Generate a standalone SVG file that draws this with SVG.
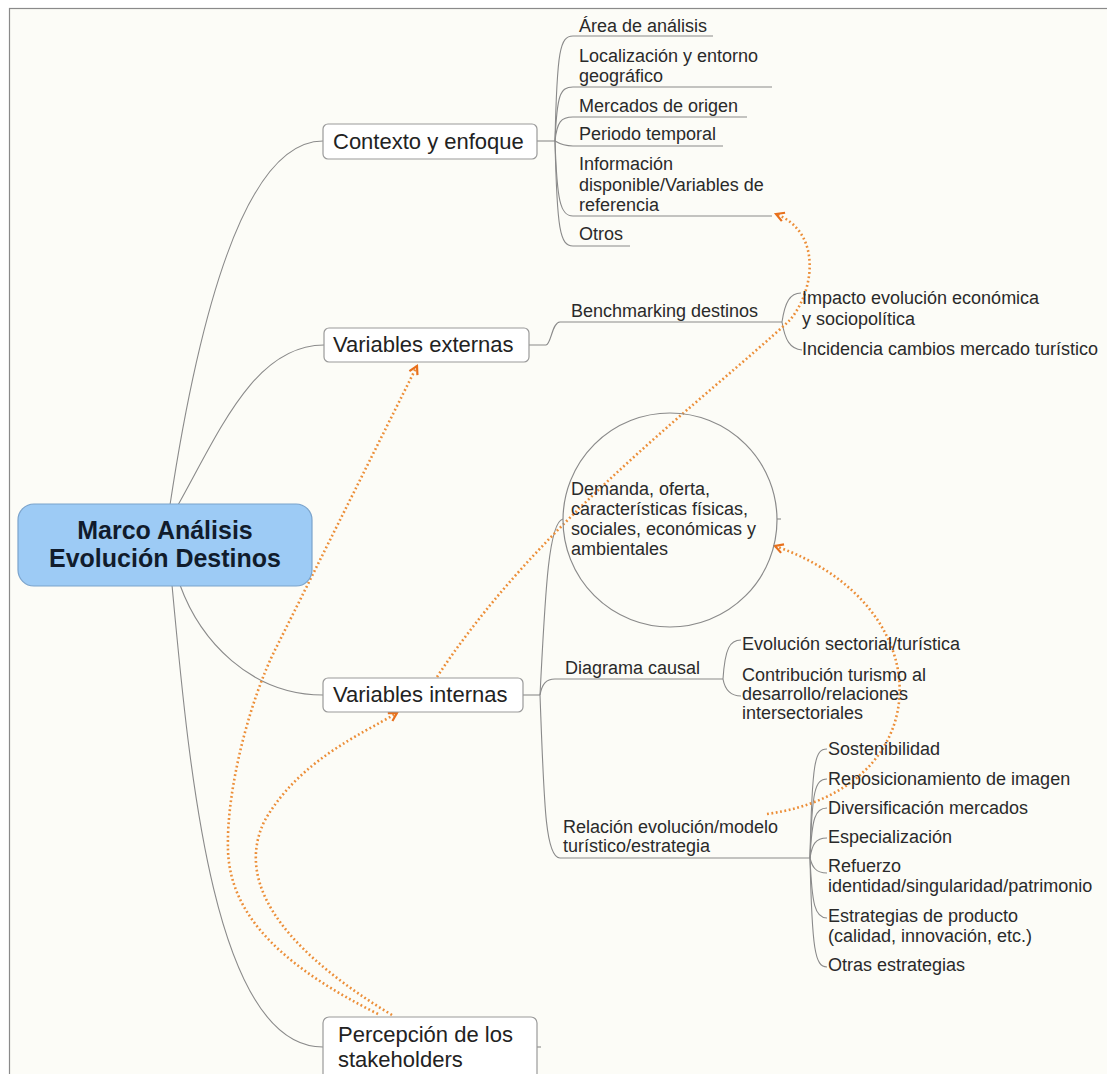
<svg xmlns="http://www.w3.org/2000/svg" width="1107" height="1074" viewBox="0 0 1107 1074">
<defs>
<style>
.bg{fill:#fcfcf7;stroke:#8a8a8a;stroke-width:1.2}
.ln{fill:none;stroke:#8a8a8a;stroke-width:1.1}
.rel{fill:none;stroke:#ec8e38;stroke-width:2.6;stroke-dasharray:1.8 2.6}
.box{fill:#ffffff;stroke:#9a9a9a;stroke-width:1.2}
.root{fill:#9dcbf5;stroke:#7aa3cc;stroke-width:1.2}
.t{font-family:"Liberation Sans",Arial,sans-serif;font-size:18px;fill:#2a2a2a}
.tm{font-family:"Liberation Sans",Arial,sans-serif;font-size:22px;fill:#222}
.tr{font-family:"Liberation Sans",Arial,sans-serif;font-size:25px;font-weight:bold;fill:#111c2c}
</style>
<marker id="arr" viewBox="0 0 12 12" refX="10" refY="6" markerWidth="12" markerHeight="12" orient="auto" markerUnits="userSpaceOnUse">
<path d="M2,1.5 L10,6 L2,10.5" fill="none" stroke="#e8701c" stroke-width="2.2"/>
</marker>
</defs>
<rect x="0" y="0" width="1107" height="1074" fill="#ffffff"/>
<rect class="bg" x="9.5" y="8.5" width="1110" height="1080"/>

<g id="connectors">
<path class="ln" d="M170,505 C195,340 240,141 323,141"/>
<path class="ln" d="M178,505 C220,430 255,345 324,345"/>
<path class="ln" d="M180,585 C200,640 250,695 323,695"/>
<path class="ln" d="M172,585 C190,780 215,1047 323,1047"/>
<path class="ln" d="M537,141 L555,141"/>
<path class="ln" d="M555,141 C557,50 560,36 573,36 L713,36"/>
<path class="ln" d="M555,141 C557,95 560,87 573,87 L772,87"/>
<path class="ln" d="M555,141 C557,122 561,117 573,117 L747,117"/>
<path class="ln" d="M555,141 C560,144 565,146 573,146 L723,146"/>
<path class="ln" d="M555,141 C557,200 560,216 573,216 L772,216"/>
<path class="ln" d="M555,141 C557,230 560,246 573,246 L630,246"/>
<path class="ln" d="M529,345 L546,345 C551,345 552,322 560,322 L782,322"/>
<path class="ln" d="M782,322 C785,302 790,293 801,293"/>
<path class="ln" d="M782,322 C785,340 790,349 802,350"/>
<path class="ln" d="M523,695 L540,695"/>
<path class="ln" d="M540,695 C545,600 548,522 563,519"/>
<path class="ln" d="M777,519 L781,519"/>
<path class="ln" d="M540,695 C542,684 546,679 555,679 L723,679"/>
<path class="ln" d="M723,679 C725,648 730,640 741,640"/>
<path class="ln" d="M723,679 C725,690 730,696 741,696"/>
<path class="ln" d="M540,695 C544,800 545,858 560,858 L810,858"/>
<path class="ln" d="M810,858 C812,760 815,749 827,749"/>
<path class="ln" d="M810,858 C812,790 815,779 827,779"/>
<path class="ln" d="M810,858 C812,818 815,808 827,808"/>
<path class="ln" d="M810,858 C812,845 815,838 827,838"/>
<path class="ln" d="M810,858 C812,866 815,873 827,873"/>
<path class="ln" d="M810,858 C812,905 815,918 827,918"/>
<path class="ln" d="M810,858 C812,950 815,967 827,967"/>
<path class="ln" d="M537,1047 L541,1047"/>
<path class="rel" marker-end="url(#arr)" d="M437,677 C540,520 710,395 790,320 C815,290 822,232 776,214"/>
<path class="rel" marker-end="url(#arr)" d="M767,814 C940,790 945,605 775,546"/>
<path class="rel" marker-end="url(#arr)" d="M378,1014 C290,970 230,920 228,850 C226,790 250,700 275,650 L417,366"/>
<path class="rel" marker-end="url(#arr)" d="M392,1015 C300,960 230,890 265,820 C300,760 360,735 397,713"/>
</g>

<g id="root">
<rect class="root" x="18" y="504" width="294" height="82" rx="16"/>
<text class="tr" x="165" y="539" text-anchor="middle">Marco Análisis</text>
<text class="tr" x="165" y="567" text-anchor="middle">Evolución Destinos</text>
</g>

<g id="contexto">
<rect class="box" x="323" y="124" width="214" height="35" rx="5"/>
<text class="tm" x="333" y="149">Contexto y enfoque</text>
</g>
<g id="area"><text class="t" x="579" y="32">Área de análisis</text></g>
<g id="localizacion"><text class="t" x="579" y="62">Localización y entorno</text><text class="t" x="579" y="82">geográfico</text></g>
<g id="mercados"><text class="t" x="579" y="112">Mercados de origen</text></g>
<g id="periodo"><text class="t" x="579" y="140">Periodo temporal</text></g>
<g id="informacion"><text class="t" x="579" y="170">Información</text><text class="t" x="579" y="191">disponible/Variables de</text><text class="t" x="579" y="211">referencia</text></g>
<g id="otros"><text class="t" x="579" y="240">Otros</text></g>

<g id="externas">
<rect class="box" x="324" y="328" width="205" height="34" rx="5"/>
<text class="tm" x="333" y="352">Variables externas</text>
</g>
<g id="benchmarking"><text class="t" x="571" y="317">Benchmarking destinos</text></g>
<g id="impacto"><text class="t" x="802" y="304">Impacto evolución económica</text><text class="t" x="802" y="325">y sociopolítica</text></g>
<g id="incidencia"><text class="t" x="802" y="355">Incidencia cambios mercado turístico</text></g>

<g id="internas">
<rect class="box" x="323" y="678" width="200" height="34" rx="5"/>
<text class="tm" x="333" y="702">Variables internas</text>
</g>
<g id="demanda">
<circle cx="670" cy="520" r="107" fill="none" stroke="#8a8a8a" stroke-width="1.2"/>
<text class="t" x="571" y="495">Demanda, oferta,</text>
<text class="t" x="571" y="515">características físicas,</text>
<text class="t" x="571" y="535">sociales, económicas y</text>
<text class="t" x="571" y="555">ambientales</text>
</g>
<g id="diagrama"><text class="t" x="565" y="674">Diagrama causal</text></g>
<g id="evolucion"><text class="t" x="742" y="650">Evolución sectorial/turística</text></g>
<g id="contribucion"><text class="t" x="742" y="681">Contribución turismo al</text><text class="t" x="742" y="700">desarrollo/relaciones</text><text class="t" x="742" y="719">intersectoriales</text></g>
<g id="relacion"><text class="t" x="563" y="833">Relación evolución/modelo</text><text class="t" x="563" y="852">turístico/estrategia</text></g>
<g id="sostenibilidad"><text class="t" x="828" y="755">Sostenibilidad</text></g>
<g id="reposicionamiento"><text class="t" x="828" y="785">Reposicionamiento de imagen</text></g>
<g id="diversificacion"><text class="t" x="828" y="814">Diversificación mercados</text></g>
<g id="especializacion"><text class="t" x="828" y="843">Especialización</text></g>
<g id="refuerzo"><text class="t" x="828" y="872">Refuerzo</text><text class="t" x="828" y="892">identidad/singularidad/patrimonio</text></g>
<g id="estrategias"><text class="t" x="828" y="922">Estrategias de producto</text><text class="t" x="828" y="942">(calidad, innovación, etc.)</text></g>
<g id="otras"><text class="t" x="828" y="971">Otras estrategias</text></g>

<g id="percepcion">
<rect class="box" x="323" y="1017" width="214" height="64" rx="6"/>
<text class="tm" x="338" y="1042">Percepción de los</text>
<text class="tm" x="338" y="1067">stakeholders</text>
</g>
</svg>
